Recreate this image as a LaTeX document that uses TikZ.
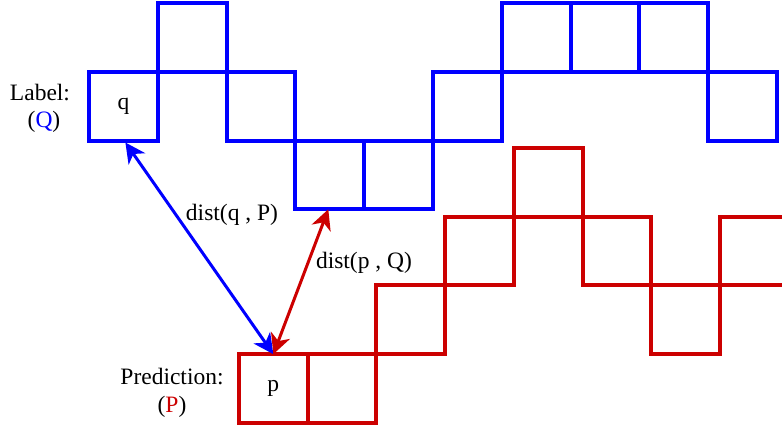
\documentclass[tikz,border=0pt]{standalone}
\usepackage{fontspec}
\setmainfont{Liberation Serif}
\usetikzlibrary{arrows.meta}
\definecolor{qblue}{RGB}{0,0,255}
\definecolor{pred}{RGB}{204,0,0}
\tikzset{
  cellQ/.style={draw=qblue, line width=4pt, minimum size=68.8pt, inner sep=0pt, outer sep=0pt, font=\fontsize{23.5}{26}\selectfont},
  cellP/.style={draw=pred, line width=4pt, minimum size=68.7pt, inner sep=0pt, outer sep=0pt, font=\fontsize{23.5}{26}\selectfont},
  lbl/.style={font=\fontsize{23.5}{26}\selectfont, inner sep=0pt},
  distarrow/.style={line width=3pt}
}
\begin{document}
\begin{tikzpicture}[x=1pt,y=-1pt]
\useasboundingbox (0,0) rectangle (782,431);
\clip (0,0) rectangle (782,431);
% blue label cells
\node[cellQ] (q)  at (123.4,106.1) {q};
\node[cellQ] (b1) at (192.2,37.4) {};
\node[cellQ] (b2) at (261.0,106.1) {};
\node[cellQ] (b3) at (329.8,174.9) {};
\node[cellQ] (b4) at (398.6,174.9) {};
\node[cellQ] (b5) at (467.4,106.1) {};
\node[cellQ] (b6) at (536.2,37.4) {};
\node[cellQ] (b7) at (605.0,37.4) {};
\node[cellQ] (b8) at (673.8,37.4) {};
\node[cellQ] (b9) at (742.6,106.1) {};
% red prediction cells
\node[cellP] (p)  at (273.35,388.5) {p};
\node[cellP] (r1) at (342.05,388.5) {};
\node[cellP] (r2) at (410.75,319.8) {};
\node[cellP] (r3) at (479.45,251.1) {};
\node[cellP] (r4) at (548.15,182.4) {};
\node[cellP] (r5) at (616.85,251.1) {};
\node[cellP] (r6) at (685.55,319.8) {};
\node[cellP] (r7) at (754.25,251.1) {};
% labels
\node[lbl] (lab)  at (40,93) {Label:};
\node[lbl] (labq) at (44,122) {(\textcolor{qblue}{Q})};
\node[lbl] (pre)  at (172,377) {Prediction:};
\node[lbl] (prep) at (172,407) {(\textcolor{pred}{P})};
\node[lbl] (dq) at (232,215) {dist(q , P)};
\node[lbl] (dp) at (364,263) {dist(p , Q)};
% distance arrows
\coordinate (qb) at ([xshift=2pt,yshift=-2pt]q.south);
\coordinate (bb) at ([xshift=-1.5pt]b3.south);
\draw[distarrow, qblue, {Stealth[length=20pt,width=20pt,inset=6pt]}-{Stealth[length=20pt,width=20pt,inset=6pt]}] (qb) -- (p.north);
\draw[distarrow, pred, {Stealth[length=20pt,width=20pt,inset=6pt]}-{Stealth[length=20pt,width=20pt,inset=6pt]}] (bb) -- (p.north);
\end{tikzpicture}
\end{document}
